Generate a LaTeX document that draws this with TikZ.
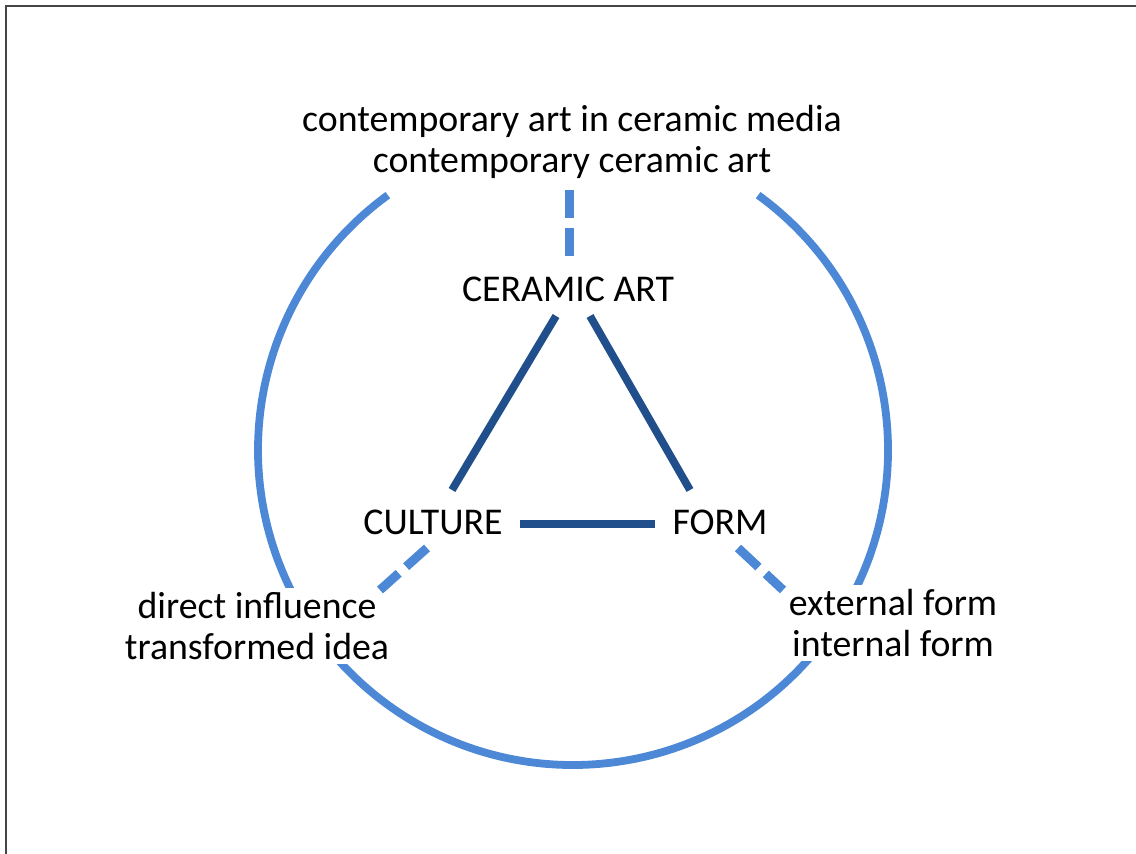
\documentclass[tikz,border=0pt]{standalone}
\usepackage{fontspec}
\setmainfont{Carlito}
\definecolor{ringblue}{RGB}{76,136,214}
\definecolor{triblue}{RGB}{33,79,140}
\definecolor{framegray}{RGB}{70,70,70}
\begin{document}
\begin{tikzpicture}[x=0.5pt,y=-0.5pt,
  lbl/.style={font=\fontsize{18.9}{20.5}\selectfont, text=black, inner sep=2pt, align=center},
  wlbl/.style={lbl, fill=white, inner sep=2pt},
  ring/.style={draw=ringblue, line width=3.9pt},
  triline/.style={draw=triblue, line width=3.9pt},
  dashline/.style={draw=ringblue, line width=4.5pt, dash pattern=on 14pt off 5pt},
  framel/.style={draw=framegray, line width=1.2pt}]
\useasboundingbox (0,0) rectangle (1136,854);
\draw[framel] (6,860) -- (6,6) -- (1140,6);
\coordinate (c) at (573,450);
\draw[ring] (c) ++(-54:315) arc[start angle=-54, end angle=234, radius=315];
\node[lbl] (top) at (572,142) {contemporary art in ceramic media\\contemporary ceramic art};
\node[lbl] (cer) at (568,289) {CERAMIC ART};
\node[lbl] (cul) at (433,522) {CULTURE};
\node[lbl] (frm) at (720,522) {FORM};
\node[wlbl] (left) at (257,626) {direct influence\\transformed idea};
\node[wlbl] (right) at (893,623) {external form\\internal form};
% triangle
\coordinate (cerL) at (556,316);
\coordinate (cerR) at (590,316);
\coordinate (culT) at (452,490);
\coordinate (culR) at (520,524);
\coordinate (frmT) at (690,490);
\coordinate (frmL) at (655,524);
\draw[triline] (cerL) -- (culT);
\draw[triline] (cerR) -- (frmT);
\draw[triline] (culR) -- (frmL);
% dashed links
\coordinate (topB) at (569,190);
\coordinate (cerT) at (569,256);
\coordinate (culB) at (427,548);
\coordinate (leftT) at (380,590);
\coordinate (frmB) at (738,548);
\coordinate (rightT) at (783,590);
\draw[dashline] (topB) -- (cerT);
\draw[dashline] (culB) -- (leftT);
\draw[dashline] (frmB) -- (rightT);
\end{tikzpicture}
\end{document}
